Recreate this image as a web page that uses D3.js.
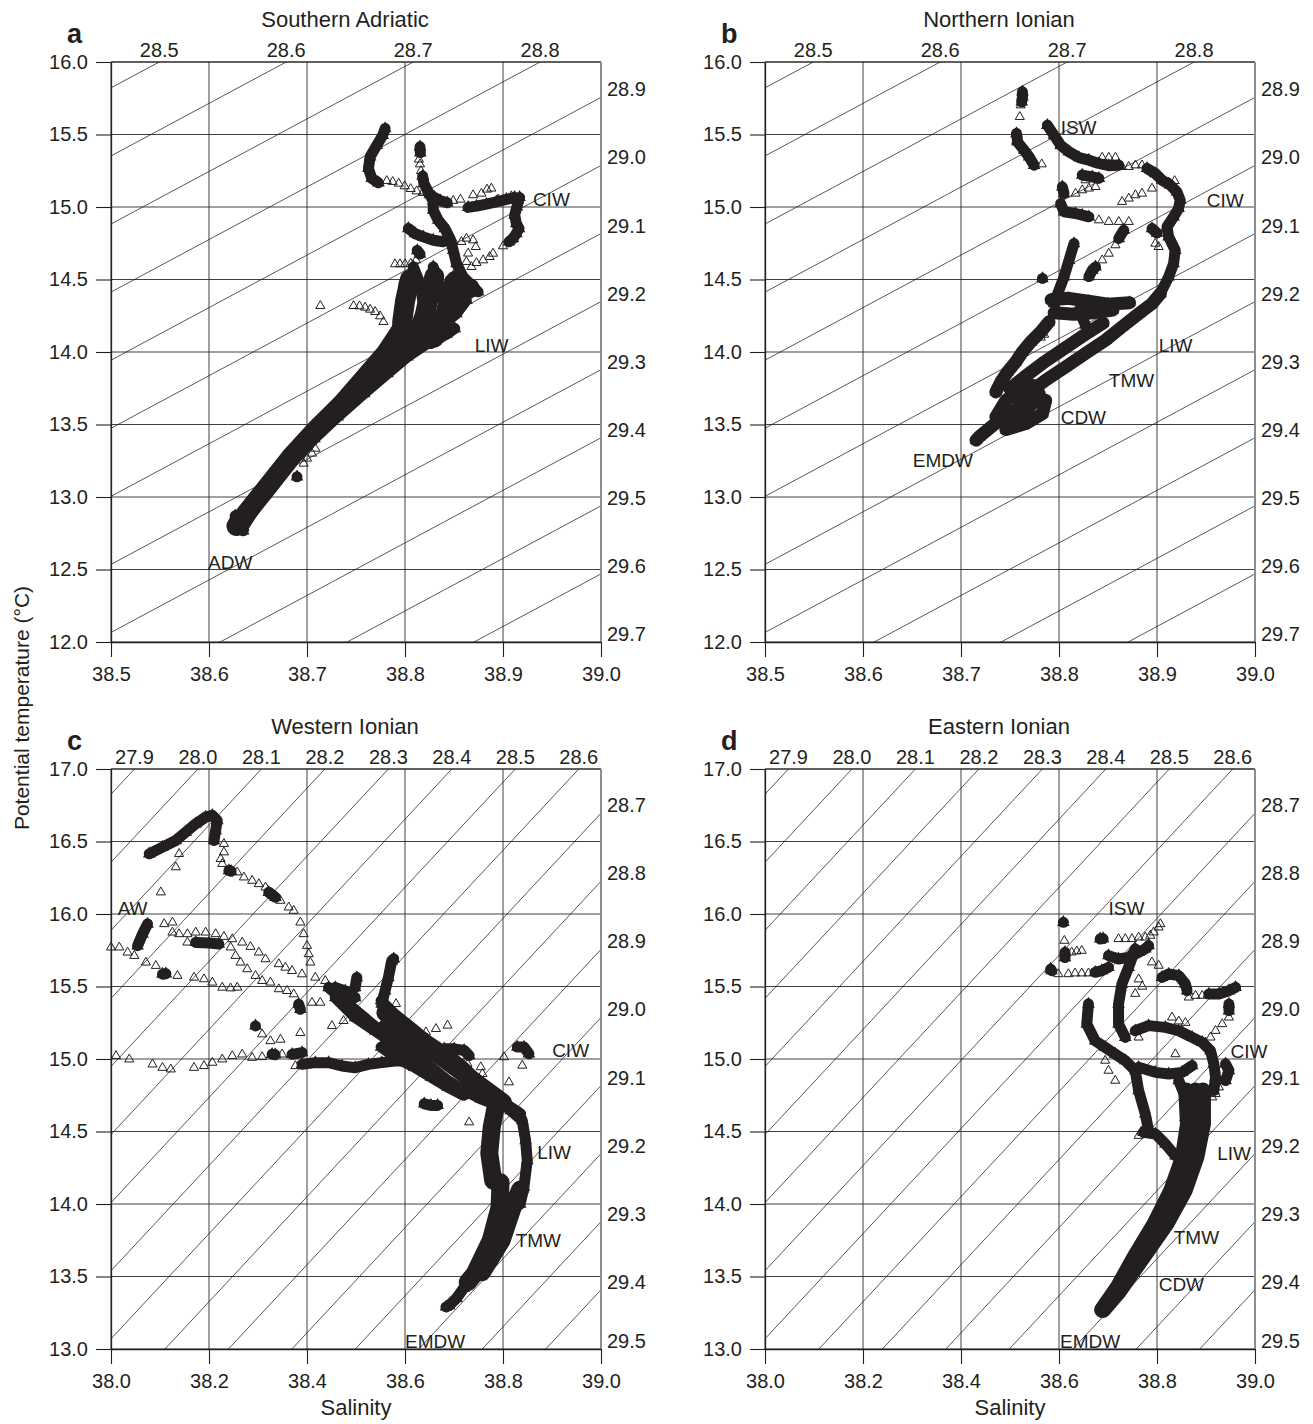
<!DOCTYPE html>
<html>
<head>
<meta charset="utf-8">
<script src="https://cdn.jsdelivr.net/npm/d3@7"></script>
<style>
  body { margin: 0; background: #fff; }
  svg text { font-family: "Liberation Sans", Arial, Helvetica, sans-serif; fill: #231f20; }
</style>
</head>
<body>
<svg id="fig" width="1313" height="1424"></svg>
<script>
// ---------- axis ticks and isopycnal levels ----------
const salinityTicksUpper = [38.5, 38.6, 38.7, 38.8, 38.9, 39.0];
const salinityTicksLower = [38.0, 38.2, 38.4, 38.6, 38.8, 39.0];
const thetaTicksUpper = [12.0, 12.5, 13.0, 13.5, 14.0, 14.5, 15.0, 15.5, 16.0];
const thetaTicksLower = [13.0, 13.5, 14.0, 14.5, 15.0, 15.5, 16.0, 16.5, 17.0];
const sigmaLevelsUpper = [28.5, 28.6, 28.7, 28.8, 28.9, 29.0, 29.1, 29.2, 29.3, 29.4, 29.5, 29.6, 29.7];
const sigmaLevelsLower = [27.9, 28.0, 28.1, 28.2, 28.3, 28.4, 28.5, 28.6, 28.7, 28.8, 28.9, 29.0, 29.1, 29.2, 29.3, 29.4, 29.5];

// ---------- Southern Adriatic: [salinity, potential temperature] ----------
// core: the thickest overlapping stretches of casts
const adriaticCore = [
  [[38.628,12.80],[38.636,12.87],[38.656,13.04],[38.683,13.27],[38.708,13.455],[38.732,13.61],[38.757,13.783],[38.78,13.93],[38.80,14.06],[38.812,14.16]],
  [[38.797,14.20],[38.800,14.35],[38.805,14.50]],
  [[38.812,14.10],[38.82,14.25],[38.825,14.40],[38.83,14.52]],
  [[38.83,14.10],[38.84,14.24],[38.847,14.38],[38.85,14.48]],
  [[38.85,14.45],[38.866,14.44]]
];
const adriaticDense = [
  [[38.6267,12.87],[38.6314,12.852],[38.6585,13.093],[38.6857,13.323],[38.7094,13.507],[38.7331,13.668],[38.7568,13.852],[38.7772,14.013],[38.7907,14.151],[38.8009,14.289]],
  [[38.6349,12.767],[38.6349,12.79],[38.6533,12.990],[38.6804,13.220],[38.7076,13.403],[38.7313,13.553],[38.7584,13.714],[38.7821,13.852],[38.8025,13.967],[38.8228,14.059]],
  [[38.799,14.472],[38.8,14.380],[38.7983,14.289],[38.7966,14.197]],
  [[38.8085,14.587],[38.8153,14.472],[38.8186,14.334],[38.8153,14.197],[38.8051,14.082]],
  [[38.8288,14.587],[38.8356,14.449],[38.839,14.334],[38.8356,14.197],[38.8254,14.059]],
  [[38.8492,14.518],[38.8593,14.426],[38.8627,14.357],[38.8525,14.265],[38.8356,14.174]],
  [[38.818,15.213],[38.8193,15.162],[38.8237,15.105],[38.8288,15.04],[38.8288,14.978],[38.8339,14.909],[38.8407,14.852],[38.8458,14.783],[38.8492,14.702],[38.8525,14.610],[38.8593,14.518],[38.8678,14.461],[38.8746,14.415]],
  [[38.8153,15.415],[38.8156,15.374]],
  [[38.7797,15.541],[38.7773,15.495],[38.7712,15.426],[38.7644,15.346],[38.7627,15.266],[38.7661,15.197],[38.7729,15.167]],
  [[38.8034,14.852],[38.8102,14.817],[38.8186,14.794],[38.8288,14.771],[38.839,14.760]],
  [[38.8125,14.70],[38.8153,14.675]],
  [[38.8644,14.997],[38.8729,15.006],[38.8831,15.020],[38.8932,15.036],[38.9034,15.052],[38.9119,15.066]],
  [[38.9169,15.066],[38.9142,15.001],[38.9119,14.944],[38.9136,14.886],[38.9163,14.852],[38.9136,14.817],[38.9102,14.783],[38.9061,14.760]],
  [[38.8508,14.162],[38.8424,14.123],[38.8339,14.093],[38.8271,14.059]],
  [[38.8302,15.066],[38.8363,15.043],[38.8431,15.029]],
  [[38.6898,13.139]]
];
const adriaticOpen = [
  [38.7814,15.180],[38.7875,15.174],[38.7936,15.162],[38.7997,15.144],[38.8058,15.125],[38.8119,15.109],[38.818,15.098],[38.8241,15.082],[38.8492,15.043],[38.8566,15.052],
  [38.8142,15.328],[38.8153,15.295],[38.8163,15.249],
  [38.8695,15.082],[38.878,15.093],[38.8837,15.121],[38.8881,15.128],[38.8949,15.052],[38.9085,15.075],
  [38.9,14.730],[38.8898,14.679],[38.8864,14.656],[38.8797,14.633],[38.8729,14.615],[38.8678,14.587],[38.8627,14.622],
  [38.8492,14.771],[38.8576,14.760],[38.8627,14.783],[38.8695,14.771],[38.8722,14.725],
  [38.7898,14.606],[38.7949,14.606],[38.8,14.606],[38.8058,14.610],[38.8112,14.633],
  [38.7475,14.318],[38.7536,14.316],[38.7593,14.307],[38.7644,14.293],[38.7695,14.277],[38.7746,14.247],[38.778,14.208],
  [38.7136,14.318],
  [38.6966,13.231],[38.7,13.266],[38.7051,13.3],[38.7085,13.334],
  [38.8356,14.38],[38.8424,14.357],[38.85,14.33],[38.8288,14.15],[38.834,14.12],[38.8492,14.70],[38.8644,14.68]
];
const adriaticLabels = [["CIW",38.9305,15.054],["LIW",38.8712,14.047],["ADW",38.599,12.545]];

// ---------- Northern Ionian ----------
const nIonianCore = [
  [[38.9034,14.403],[38.8949,14.334],[38.8814,14.265],[38.8644,14.174],[38.8475,14.082],[38.8271,13.990],[38.8068,13.898],[38.7864,13.806],[38.7729,13.737],[38.7593,13.668]],
  [[38.845,14.20],[38.823,14.105],[38.803,14.013],[38.783,13.921],[38.765,13.829],[38.75,13.748]],
  [[38.7153,13.392],[38.7186,13.415],[38.739,13.53],[38.7593,13.622],[38.7797,13.714]],
  [[38.7458,13.465],[38.7661,13.506],[38.7831,13.575],[38.7864,13.667]],
  [[38.7356,13.552],[38.7458,13.667],[38.7593,13.737],[38.7729,13.771]],
  [[38.7492,13.552],[38.7661,13.598],[38.7763,13.667]],
  [[38.7898,14.208],[38.7814,14.139],[38.7712,14.070],[38.7627,14.001],[38.7559,13.932],[38.7475,13.863],[38.7407,13.794],[38.7356,13.725]],
  [[38.792,14.36],[38.81,14.37],[38.83,14.35],[38.85,14.33],[38.872,14.34]],
  [[38.795,14.27],[38.815,14.26],[38.835,14.27],[38.855,14.29]]
];
const nIonianDense = [
  [[38.7627,15.794],[38.7627,15.76],[38.762,15.725]],
  [[38.7566,15.507],[38.7576,15.461],[38.7576,15.449],[38.7644,15.392],[38.7695,15.346],[38.7746,15.288]],
  [[38.7881,15.564],[38.7949,15.495],[38.8017,15.426],[38.8102,15.380],[38.8203,15.341],[38.8305,15.323],[38.8407,15.300],[38.8508,15.285],[38.861,15.288]],
  [[38.8898,15.266],[38.8983,15.231],[38.9051,15.185],[38.9136,15.151],[38.9203,15.105],[38.9237,15.047],[38.922,14.990],[38.9169,14.932],[38.9102,14.863],[38.9119,14.794],[38.9186,14.702],[38.9169,14.610],[38.9119,14.518],[38.9034,14.403]],
  [[38.8153,14.748],[38.8102,14.633],[38.8051,14.518],[38.8,14.426],[38.7949,14.334]],
  [[38.8203,14.288],[38.8271,14.185]],
  [[38.7831,14.507]],
  [[38.8034,15.139],[38.8051,15.093]],
  [[38.8017,15.024],[38.8051,14.967],[38.8169,14.955],[38.8237,14.944],[38.8305,14.932]],
  [[38.8237,15.220],[38.8339,15.208],[38.8407,15.197]],
  [[38.8661,14.840],[38.861,14.783]],
  [[38.8373,14.587],[38.8339,14.564],[38.8305,14.52]],
  [[38.8949,14.851],[38.9,14.82]]
];
const nIonianOpen = [
  [38.76,15.622],[38.761,15.702],[38.7824,15.295],
  [38.8441,15.341],[38.8508,15.341],[38.8576,15.341],[38.8644,15.277],[38.8712,15.277],[38.878,15.288],[38.8847,15.288],
  [38.8407,14.909],[38.8508,14.898],[38.861,14.898],[38.8712,14.898],
  [38.8644,15.036],[38.8712,15.059],[38.878,15.082],[38.8847,15.093],[38.8949,15.128],
  [38.8169,15.093],[38.8237,15.116],[38.8305,15.128],[38.8373,15.139],[38.8271,15.185],
  [38.8576,14.737],[38.8508,14.679],[38.8441,14.633],
  [38.8983,14.748],[38.9017,14.725],
  [38.9119,15.17],[38.918,15.18],
  [38.7814,14.10],[38.7848,14.12]
];
const nIonianLabels = [["ISW",38.8017,15.548],["CIW",38.9508,15.047],["LIW",38.9017,14.047],["TMW",38.8508,13.801],["CDW",38.8017,13.548],["EMDW",38.6508,13.249]];

// ---------- Western Ionian ----------
const wIonianCore = [
  [[38.785,14.67],[38.777,14.53],[38.772,14.35],[38.780,14.16]],
  [[38.795,14.15],[38.793,13.978],[38.775,13.748],[38.742,13.518],[38.728,13.46]],
  [[38.835,14.1],[38.82,13.978],[38.797,13.748],[38.757,13.53]],
  [[38.56,15.32],[38.60,15.20],[38.64,15.10],[38.68,15.00],[38.72,14.90],[38.76,14.80],[38.80,14.70]]
];
const wIonianDense = [
  [[38.078,16.415],[38.1051,16.461],[38.1322,16.507],[38.1525,16.565],[38.1729,16.622],[38.1932,16.668],[38.2068,16.680],[38.2169,16.645],[38.2136,16.576],[38.2102,16.507]],
  [[38.2407,16.300],[38.245,16.295]],
  [[38.322,16.150],[38.3356,16.115]],
  [[38.0746,15.931],[38.0644,15.862],[38.0542,15.781]],
  [[38.1051,15.585],[38.112,15.588]],
  [[38.1729,15.804],[38.20,15.80],[38.22,15.793]],
  [[38.383,15.378],[38.3864,15.343]],
  [[38.4576,15.493],[38.478,15.470],[38.4983,15.424]],
  [[38.2949,15.228]],
  [[38.3288,15.032],[38.335,15.03]],
  [[38.3695,15.032],[38.3898,15.044]],
  [[38.3898,14.963],[38.4169,14.975],[38.4441,14.975],[38.4712,14.952],[38.4983,14.940],[38.5254,14.963],[38.5525,14.975],[38.5797,14.986],[38.6068,14.986]],
  [[38.5769,15.691],[38.5729,15.677],[38.5661,15.562],[38.5593,15.470],[38.5525,15.378]],
  [[38.5017,15.562],[38.4983,15.493]],
  [[38.4441,15.493],[38.4847,15.378],[38.5254,15.263],[38.5661,15.147],[38.6068,15.032],[38.6407,14.940]],
  [[38.4576,15.424],[38.4983,15.286],[38.539,15.194],[38.5797,15.101],[38.6203,15.009]],
  [[38.5512,15.403],[38.5783,15.311],[38.6122,15.220],[38.6461,15.128],[38.6868,15.036],[38.7207,14.944],[38.7546,14.829],[38.7817,14.714],[38.802,14.668]],
  [[38.5512,15.220],[38.5851,15.128],[38.619,15.036],[38.6529,14.944],[38.6868,14.852],[38.7207,14.783],[38.7546,14.725],[38.7817,14.691],[38.8156,14.668],[38.8359,14.622]],
  [[38.5512,15.082],[38.5851,15.001],[38.619,14.944],[38.6529,14.875],[38.6868,14.806],[38.72,14.75]],
  [[38.8156,14.645],[38.8393,14.576],[38.8461,14.438],[38.8495,14.300],[38.8427,14.116],[38.835,14.0]],
  [[38.735,13.50],[38.72,13.42],[38.705,13.35],[38.69,13.30],[38.6837,13.29]],
  [[38.8292,15.082],[38.8427,15.082],[38.8529,15.036]],
  [[38.68,15.070],[38.7003,15.070],[38.7207,15.059],[38.7309,15.024]],
  [[38.6393,14.691],[38.6529,14.68],[38.6665,14.68]]
];
const wIonianOpen = [
  [38.2305,16.484],[38.2305,16.426],[38.2237,16.380],[38.2271,16.346],[38.2576,16.288],[38.2712,16.253],[38.2881,16.230],[38.3017,16.207],[38.3153,16.184],[38.3458,16.092],[38.3627,16.046],[38.3729,16.023],[38.3864,15.942],[38.3932,15.862],[38.4,15.781],[38.4034,15.724],[38.4068,15.666],
  [38.139,16.415],[38.1322,16.323],[38.1017,16.150],
  [38.0,15.770],[38.0169,15.770],[38.0339,15.735],[38.0475,15.712],[38.0712,15.666],[38.0915,15.643],[38.1356,15.574],[38.1695,15.562],[38.1898,15.551],[38.2068,15.528],[38.2271,15.493],[38.2441,15.488],[38.2576,15.493],
  [38.1085,15.931],[38.1254,15.942],[38.1254,15.873],[38.139,15.862],[38.1559,15.862],[38.1729,15.873],[38.1932,15.873],[38.2136,15.862],[38.2305,15.843],[38.2475,15.827],[38.2678,15.804],[38.2847,15.774],[38.3017,15.735],[38.3153,15.689],
  [38.1559,15.804],[38.2441,15.770],[38.2542,15.712],[38.2644,15.666],[38.278,15.620],[38.2949,15.574],[38.3085,15.539],[38.3254,15.528],[38.3424,15.482],[38.3593,15.470],[38.3729,15.447],
  [38.3424,15.655],[38.3559,15.631],[38.3695,15.608],[38.3898,15.585],[38.4169,15.562],[38.4373,15.539],
  [38.3085,15.171],[38.3254,15.124],[38.3458,15.134],[38.3864,15.180],[38.4102,15.389],[38.4271,15.389],[38.4508,15.228],[38.4746,15.263],
  [38.0102,15.021],[38.0373,14.998],[38.0847,14.963],[38.1051,14.940],[38.1220,14.929],[38.1695,14.940],[38.1898,14.952],[38.2068,14.975],[38.2271,14.998],[38.2475,15.021],[38.2678,15.032],[38.2881,15.009],[38.3085,15.014],[38.3492,15.032],[38.3763,14.952],
  [38.5817,15.380],[38.6427,15.185],[38.6631,15.208],[38.6868,15.231],
  [38.802,15.013],[38.8122,14.840],[38.8393,14.955],
  [38.7275,14.967],[38.6969,14.932],[38.7105,14.909],[38.7546,14.944],[38.758,14.898],[38.7478,14.863],[38.7444,14.806],
  [38.7309,14.564]
];
const wIonianLabels = [["AW",38.0136,16.041],["CIW",38.9003,15.059],["LIW",38.8698,14.353],["TMW",38.8258,13.748],["EMDW",38.6,13.05]];

// ---------- Eastern Ionian ----------
const eIonianCore = [
  [[38.8598,14.782],[38.8632,14.552],[38.853,14.322],[38.8291,14.092],[38.7949,13.862],[38.754,13.632],[38.7199,13.425],[38.688,13.27]],
  [[38.8938,14.782],[38.8938,14.552],[38.8802,14.322],[38.8563,14.092],[38.8187,13.862],[38.7709,13.632],[38.7232,13.402],[38.69,13.27]],
  [[38.8785,14.782],[38.8819,14.552],[38.8683,14.322],[38.8444,14.092],[38.8068,13.862],[38.762,13.632],[38.72,13.41]]
];
const eIonianDense = [
  [[38.6089,15.943]],
  [[38.6123,15.736],[38.6123,15.70]],
  [[38.585,15.609],[38.583,15.62]],
  [[38.6737,15.598],[38.6874,15.609],[38.701,15.632]],
  [[38.684,15.828],[38.69,15.83]],
  [[38.701,15.713],[38.7215,15.690],[38.742,15.701],[38.7625,15.736],[38.7761,15.759],[38.7829,15.782]],
  [[38.7556,15.759],[38.742,15.632],[38.7283,15.517],[38.7215,15.379],[38.7215,15.241],[38.7352,15.149]],
  [[38.8102,15.563],[38.8239,15.586],[38.8444,15.575],[38.858,15.517],[38.8614,15.471]],
  [[38.9058,15.448],[38.9263,15.448],[38.9468,15.471],[38.9604,15.494]],
  [[38.9468,15.379],[38.9468,15.333]],
  [[38.7556,15.195],[38.7829,15.230],[38.8171,15.218],[38.8444,15.195],[38.8717,15.149],[38.8922,15.115],[38.9092,15.057],[38.916,14.966],[38.9195,14.874],[38.916,14.782]],
  [[38.6601,15.379],[38.6567,15.241],[38.6737,15.126],[38.6942,15.080],[38.7147,15.034],[38.7352,14.989],[38.7556,14.920],[38.7625,14.782],[38.7761,14.621],[38.7829,14.506]],
  [[38.7625,14.943],[38.7966,14.908],[38.8239,14.897],[38.8512,14.908],[38.8717,14.954]],
  [[38.9399,14.966],[38.9468,14.920],[38.9399,14.851]],
  [[38.7727,14.494],[38.7966,14.483],[38.8171,14.414],[38.8375,14.333]],
  [[38.8444,14.851],[38.858,14.736],[38.858,14.598]]
];
const eIonianOpen = [
  [38.6109,15.816],[38.6259,15.736],[38.6362,15.743],[38.6464,15.747],
  [38.5986,15.586],[38.6191,15.586],[38.6328,15.591],[38.6464,15.591],[38.6601,15.591],
  [38.7215,15.828],[38.7352,15.828],[38.7488,15.828],[38.7625,15.839],[38.7761,15.839],[38.7863,15.851],[38.7932,15.874],[38.8034,15.908],[38.8068,15.931],
  [38.8648,15.425],[38.8785,15.437],[38.8922,15.437],
  [38.9468,15.287],[38.9331,15.241],[38.9195,15.195],[38.9092,15.149],[38.899,15.115],
  [38.8307,15.287],[38.8444,15.26],[38.858,15.25],[38.7625,15.149],[38.8375,15.034],
  [38.6942,14.989],[38.701,14.920],[38.7147,14.851],
  [38.9263,14.805],[38.9195,14.759],[38.9126,14.736],
  [38.7625,14.471],[38.768,14.50],
  [38.7625,15.55],[38.77,15.50],[38.7556,15.45],[38.7897,15.667],[38.8034,15.644]
];
const eIonianLabels = [["ISW",38.701,16.041],["CIW",38.9502,15.053],["LIW",38.9229,14.345],["TMW",38.8341,13.766],["CDW",38.8034,13.444],["EMDW",38.602,13.05]];

// ---------- linear equation of state used for the isopycnal grid ----------
const SIGMA_REF = 29.70, S_REF = 39.0, T_REF = 12.0, BETA = 0.772, ALPHA = 0.213;
const salinityOnIsopycnal = (sig, T) => S_REF + (sig - SIGMA_REF + ALPHA * (T - T_REF)) / BETA;
const thetaOnIsopycnal = (sig, S) => T_REF + (SIGMA_REF - sig + BETA * (S - S_REF)) / ALPHA;

// ---------- panel layout ----------
const panels = [
  { key: "a", title: "Southern Adriatic", left: 111, top: 62, width: 490, height: 580, coreWidth: 20,
    sDomain: [38.5, 39.0], tDomain: [12, 16], sTicks: salinityTicksUpper, tTicks: thetaTicksUpper,
    levels: sigmaLevelsUpper, core: adriaticCore, dense: adriaticDense, open: adriaticOpen, labels: adriaticLabels },
  { key: "b", title: "Northern Ionian", left: 765, top: 62, width: 490, height: 580, coreWidth: 13,
    sDomain: [38.5, 39.0], tDomain: [12, 16], sTicks: salinityTicksUpper, tTicks: thetaTicksUpper,
    levels: sigmaLevelsUpper, core: nIonianCore, dense: nIonianDense, open: nIonianOpen, labels: nIonianLabels },
  { key: "c", title: "Western Ionian", left: 111, top: 769, width: 490, height: 580, coreWidth: 18,
    sDomain: [38.0, 39.0], tDomain: [13, 17], sTicks: salinityTicksLower, tTicks: thetaTicksLower,
    levels: sigmaLevelsLower, core: wIonianCore, dense: wIonianDense, open: wIonianOpen, labels: wIonianLabels },
  { key: "d", title: "Eastern Ionian", left: 765, top: 769, width: 490, height: 580, coreWidth: 16,
    sDomain: [38.0, 39.0], tDomain: [13, 17], sTicks: salinityTicksLower, tTicks: thetaTicksLower,
    levels: sigmaLevelsLower, core: eIonianCore, dense: eIonianDense, open: eIonianOpen, labels: eIonianLabels }
];

const INK = "#231f20";
const GRID = "#2a2a2a";
const FONT = '"Liberation Sans", Arial, Helvetica, sans-serif';
const svg = d3.select("#fig");
svg.append("rect").attr("width", 1313).attr("height", 1424).attr("fill", "#fff");
const defs = svg.append("defs");
const fmt = d3.format(".1f");

function drawPanel(p) {
  const x = d3.scaleLinear().domain(p.sDomain).range([p.left, p.left + p.width]);
  const y = d3.scaleLinear().domain(p.tDomain).range([p.top + p.height, p.top]);
  const right = p.left + p.width, bottom = p.top + p.height;
  const g = svg.append("g").attr("class", "panel-" + p.key);

  defs.append("clipPath").attr("id", "clip-" + p.key)
    .append("rect").attr("x", p.left).attr("y", p.top).attr("width", p.width).attr("height", p.height);

  // grid
  g.append("g").selectAll("line").data(p.sTicks).join("line")
    .attr("x1", d => x(d)).attr("x2", d => x(d)).attr("y1", p.top).attr("y2", bottom)
    .attr("stroke", GRID).attr("stroke-width", 0.9);
  g.append("g").selectAll("line").data(p.tTicks).join("line")
    .attr("x1", p.left).attr("x2", right).attr("y1", d => y(d)).attr("y2", d => y(d))
    .attr("stroke", GRID).attr("stroke-width", 0.9);

  // isopycnals
  const t0 = p.tDomain[0] - 1, t1 = p.tDomain[1] + 1;
  g.append("g").attr("clip-path", "url(#clip-" + p.key + ")")
    .selectAll("line").data(p.levels).join("line")
    .attr("x1", d => x(salinityOnIsopycnal(d, t0))).attr("y1", y(t0))
    .attr("x2", d => x(salinityOnIsopycnal(d, t1))).attr("y2", y(t1))
    .attr("stroke", INK).attr("stroke-width", 0.75);

  // isopycnal labels: along the top edge or down the right edge
  const lab = g.append("g").attr("font-size", 20);
  p.levels.forEach(sig => {
    const sTop = salinityOnIsopycnal(sig, p.tDomain[1]);
    if (sTop <= p.sDomain[1] + 1e-6) {
      lab.append("text").attr("x", x(sTop)).attr("y", p.top - 5)
        .attr("text-anchor", "middle").text(fmt(sig));
    } else {
      const tR = Math.max(p.tDomain[0], thetaOnIsopycnal(sig, p.sDomain[1]));
      lab.append("text").attr("x", right + 6).attr("y", y(tR) - 8)
        .attr("dominant-baseline", "central").text(fmt(sig));
    }
  });

  // frame: black top, grey right
  g.append("line").attr("x1", p.left).attr("x2", right).attr("y1", p.top).attr("y2", p.top)
    .attr("stroke", INK).attr("stroke-width", 1.1);
  g.append("line").attr("x1", right).attr("x2", right).attr("y1", p.top).attr("y2", bottom + 1)
    .attr("stroke", "#8d8d8d").attr("stroke-width", 2);

  // axes
  const ax = g.append("g").attr("transform", `translate(${p.left},0)`)
    .call(d3.axisLeft(y).tickValues(p.tTicks).tickFormat(fmt).tickSize(15).tickPadding(8).tickSizeOuter(0));
  const bx = g.append("g").attr("transform", `translate(0,${bottom})`)
    .call(d3.axisBottom(x).tickValues(p.sTicks).tickFormat(fmt).tickSize(15).tickPadding(10).tickSizeOuter(0));
  [ax, bx].forEach(a => {
    a.select(".domain").attr("stroke", INK).attr("stroke-width", 1.3);
    a.selectAll(".tick line").attr("stroke", INK).attr("stroke-width", 1.1);
    a.selectAll(".tick text").attr("font-size", 20).attr("fill", INK).attr("font-family", FONT);
  });

  // CTD data: thick overlapping stretches, dense runs of triangles, then sparse open triangles
  const tri = d3.symbol(d3.symbolTriangle);
  const line = d3.line().x(d => x(d[0])).y(d => y(d[1]));
  const data = g.append("g");
  data.selectAll("path.core").data(p.core).join("path").attr("class", "core")
    .attr("d", line).attr("fill", "none").attr("stroke", INK).attr("stroke-width", p.coreWidth)
    .attr("stroke-linejoin", "round").attr("stroke-linecap", "round");
  data.selectAll("path.run").data(p.dense).join("path").attr("class", "run")
    .attr("d", line).attr("fill", "none").attr("stroke", INK).attr("stroke-width", 11)
    .attr("stroke-linejoin", "round").attr("stroke-linecap", "round");
  data.selectAll("path.solid").data(p.dense.flat().concat(p.core.flat())).join("path").attr("class", "solid")
    .attr("transform", d => `translate(${x(d[0])},${y(d[1])})`)
    .attr("d", tri.size(70)()).attr("fill", INK);
  data.selectAll("path.hollow").data(p.open).join("path").attr("class", "hollow")
    .attr("transform", d => `translate(${x(d[0])},${y(d[1])})`)
    .attr("d", tri.size(36)()).attr("fill", "none").attr("stroke", INK).attr("stroke-width", 1);

  // water-mass labels
  g.append("g").selectAll("text").data(p.labels).join("text")
    .attr("x", d => x(d[1])).attr("y", d => y(d[2])).attr("dominant-baseline", "central")
    .attr("font-size", 19).text(d => d[0]);

  // title and panel letter
  g.append("text").attr("x", p.left + p.width / 2 - 11).attr("y", p.top - 35)
    .attr("text-anchor", "middle").attr("font-size", 22).text(p.title);
  g.append("text").attr("x", p.left - 44).attr("y", p.top - 19)
    .attr("font-size", 27).attr("font-weight", "bold").text(p.key);
}

panels.forEach(drawPanel);

// shared axis titles
svg.append("text").attr("transform", "translate(29,708) rotate(-90)")
  .attr("text-anchor", "middle").attr("font-size", 21).text("Potential temperature (°C)");
[panels[2], panels[3]].forEach(p => {
  svg.append("text").attr("x", p.left + p.width / 2).attr("y", 1415)
    .attr("text-anchor", "middle").attr("font-size", 22).text("Salinity");
});
</script>
</body>
</html>
